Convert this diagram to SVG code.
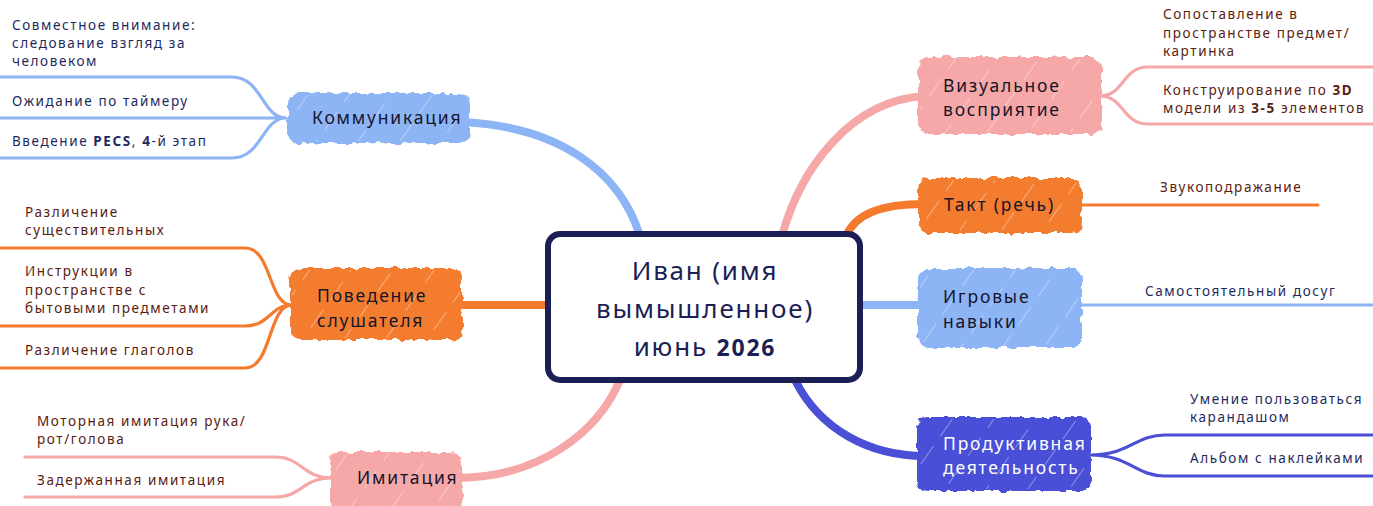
<svg xmlns="http://www.w3.org/2000/svg" width="1373" height="506" viewBox="0 0 1373 506">
<defs>
<filter id="rough" x="-5%" y="-10%" width="110%" height="120%">
<feTurbulence type="fractalNoise" baseFrequency="0.12" numOctaves="2" seed="3" result="n"/>
<feDisplacementMap in="SourceGraphic" in2="n" scale="7" xChannelSelector="R" yChannelSelector="G"/>
</filter>
<pattern id="hatch" width="34" height="34" patternUnits="userSpaceOnUse" patternTransform="rotate(35)">
<line x1="0" y1="0" x2="0" y2="22" stroke="#fff" stroke-width="1.4" stroke-opacity="0.55"/>
</pattern>
</defs>
<style>
.leaf{font-family:"Noto Sans","DejaVu Sans",sans-serif;font-size:13.5px;letter-spacing:1.6px}
.main{font-family:"Noto Sans","DejaVu Sans",sans-serif;font-size:17.5px;letter-spacing:1.8px;fill:#15152a}
.ctr{font-family:"Noto Sans","DejaVu Sans",sans-serif;font-size:26px;letter-spacing:1.8px;fill:#1c1f55;text-anchor:middle}
.conn{fill:none;stroke-width:8;stroke-linecap:round}
.lf{fill:none;stroke-width:3.2;stroke-linecap:round}
.blue{stroke:#8db4f5}.orange{stroke:#f47b2e}.pink{stroke:#f5a8a7}.indigo{stroke:#4a4fd6}
.tb{fill:#1e2a5e}.tr{fill:#5a2010}
</style>
<rect width="1373" height="506" fill="#fff"/>
<g id="connectors">
<path class="conn blue" d="M460 122 C560 126 620 172 640 236"/>
<path class="conn orange" d="M455 305 H550"/>
<path class="conn pink" d="M455 478 C540 478 598 432 620 380"/>
<path class="conn pink" d="M925 96 C850 100 800 170 782 236"/>
<path class="conn orange" d="M925 204 C880 204 856 214 846 236"/>
<path class="conn blue" d="M858 305 H925"/>
<path class="conn indigo" d="M795 380 C820 430 870 456 925 456"/>
<path class="lf blue" d="M0 77 H232 C262 77 262 118 286 118 M0 118 H232 C262 118 262 118 286 118 M0 158 H232 C262 158 262 118 286 118"/>
<path class="lf orange" d="M0 248 H245 C272 248 268 305 292 305 M0 326 H245 C270 326 270 305 292 305 M0 368 H245 C272 368 268 305 292 305"/>
<path class="lf pink" d="M25 457 H275 C302 457 302 478 332 478 M25 497 H275 C302 497 302 478 332 478"/>
<path class="lf pink" d="M1100 96 C1124 96 1122 67 1148 67 H1373 M1100 96 C1124 96 1122 124 1148 124 H1373"/>
<path class="lf orange" d="M1080 205 H1318"/>
<path class="lf blue" d="M1080 305 H1373"/>
<path class="lf indigo" d="M1090 455 C1130 455 1135 435 1165 435 H1373 M1090 455 C1130 455 1135 476 1165 476 H1373"/>
</g>
<g id="center">
<rect x="548" y="234" width="312" height="146" rx="12" fill="#fff" stroke="#1c1f55" stroke-width="6"/>
<text class="ctr" x="705" y="280">Иван (имя</text>
<text class="ctr" x="705" y="318">вымышленное)</text>
<text class="ctr" x="705" y="356">июнь <tspan font-weight="bold" font-size="23">2026</tspan></text>
</g>
<g id="node-kommunikatsiya">
<rect x="288" y="93" width="182" height="50" rx="10" fill="#8db4f5" filter="url(#rough)"/>
<rect x="290" y="95" width="178" height="46" rx="10" fill="url(#hatch)"/>
<text class="main" x="312" y="124">Коммуникация</text>
</g>
<g id="node-povedenie">
<rect x="290" y="268" width="172" height="72" rx="10" fill="#f47b2e" filter="url(#rough)"/>
<rect x="292" y="270" width="168" height="68" rx="10" fill="url(#hatch)"/>
<text class="main" x="317" y="302">Поведение</text>
<text class="main" x="317" y="327">слушателя</text>
</g>
<g id="node-imitatsiya">
<rect x="330" y="452" width="132" height="60" rx="10" fill="#f5a8a7" filter="url(#rough)"/>
<rect x="332" y="454" width="128" height="56" rx="10" fill="url(#hatch)"/>
<text class="main" x="357" y="484">Имитация</text>
</g>
<g id="node-vizualnoe">
<rect x="918" y="57" width="184" height="77" rx="10" fill="#f5a8a7" filter="url(#rough)"/>
<rect x="920" y="59" width="180" height="73" rx="10" fill="url(#hatch)"/>
<text class="main" x="943" y="92">Визуальное</text>
<text class="main" x="943" y="116">восприятие</text>
</g>
<g id="node-takt">
<rect x="918" y="178" width="164" height="55" rx="10" fill="#f47b2e" filter="url(#rough)"/>
<rect x="920" y="180" width="160" height="51" rx="10" fill="url(#hatch)"/>
<text class="main" x="944" y="211">Такт (речь)</text>
</g>
<g id="node-igrovye">
<rect x="918" y="268" width="164" height="80" rx="10" fill="#8db4f5" filter="url(#rough)"/>
<rect x="920" y="270" width="160" height="76" rx="10" fill="url(#hatch)"/>
<text class="main" x="943" y="303">Игровые</text>
<text class="main" x="943" y="328">навыки</text>
</g>
<g id="node-produktivnaya">
<rect x="917" y="417" width="174" height="74" rx="10" fill="#4a4fd6" filter="url(#rough)"/>
<rect x="919" y="419" width="170" height="70" rx="10" fill="url(#hatch)"/>
<text class="main" x="943" y="450" style="fill:#fff">Продуктивная</text>
<text class="main" x="943" y="474" style="fill:#fff">деятельность</text>
</g>
<g id="leaves">
<text class="leaf tb" x="12" y="30">Совместное внимание:</text>
<text class="leaf tb" x="12" y="48">следование взгляд за</text>
<text class="leaf tb" x="12" y="66">человеком</text>
<text class="leaf tb" x="12" y="106">Ожидание по таймеру</text>
<text class="leaf tb" x="12" y="146">Введение <tspan font-weight="bold">PECS</tspan>, <tspan font-weight="bold">4</tspan>-й этап</text>
<text class="leaf tr" x="25" y="217">Различение</text>
<text class="leaf tr" x="25" y="235">существительных</text>
<text class="leaf tr" x="25" y="276">Инструкции в</text>
<text class="leaf tr" x="25" y="295">пространстве с</text>
<text class="leaf tr" x="25" y="313">бытовыми предметами</text>
<text class="leaf tr" x="25" y="355">Различение глаголов</text>
<text class="leaf tr" x="37" y="426">Моторная имитация рука/</text>
<text class="leaf tr" x="37" y="444">рот/голова</text>
<text class="leaf tr" x="37" y="485">Задержанная имитация</text>
<text class="leaf tr" x="1163" y="19">Сопоставление в</text>
<text class="leaf tr" x="1163" y="38">пространстве предмет/</text>
<text class="leaf tr" x="1163" y="56">картинка</text>
<text class="leaf tr" x="1163" y="95">Конструирование по <tspan font-weight="bold">3D</tspan></text>
<text class="leaf tr" x="1163" y="113">модели из <tspan font-weight="bold">3-5</tspan> элементов</text>
<text class="leaf tr" x="1160" y="192">Звукоподражание</text>
<text class="leaf tb" x="1145" y="296">Самостоятельный досуг</text>
<text class="leaf tb" x="1190" y="404">Умение пользоваться</text>
<text class="leaf tb" x="1190" y="422">карандашом</text>
<text class="leaf tb" x="1190" y="463">Альбом с наклейками</text>
</g>
</svg>
